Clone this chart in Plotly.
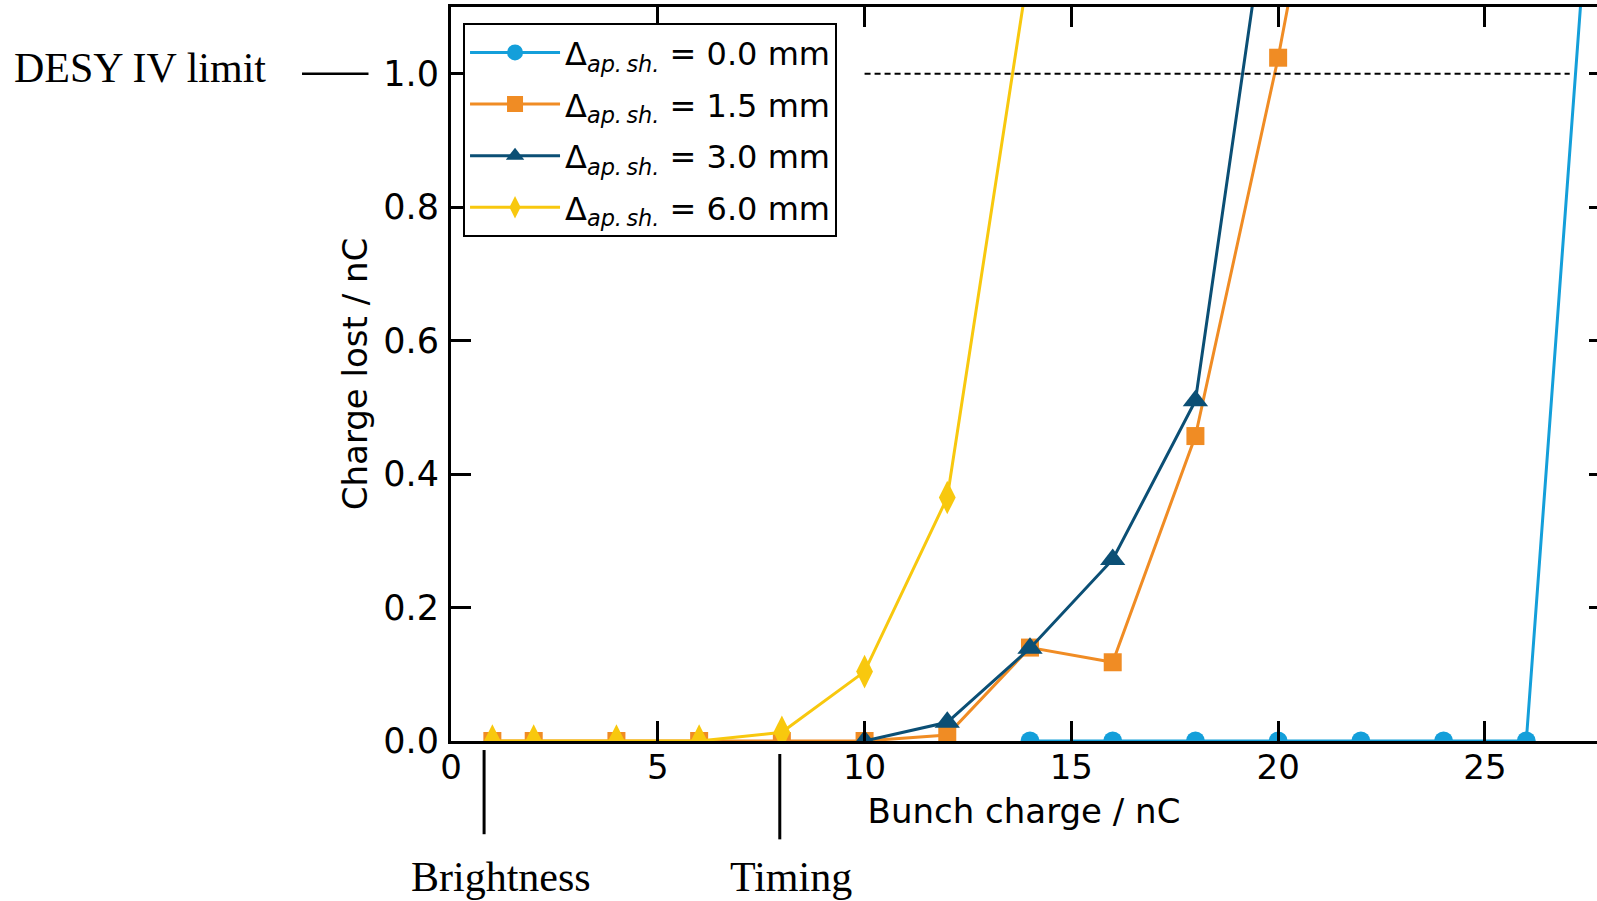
import plotly.graph_objects as go

# Charge lost vs. bunch charge for different aperture shifts
charge_00 = [14, 16, 18, 20, 22, 24, 26, 28]
lost_00 = [0, 0, 0, 0, 0, 0, 0, 1.68]

charge_15 = [1, 2, 4, 6, 8, 10, 12, 14, 16, 18, 20, 22]
lost_15 = [0, 0, 0, 0, 0, 0, 0.009, 0.14, 0.118, 0.457, 1.024, 1.68]

charge_30 = [10, 12, 14, 16, 18, 20]
lost_30 = [0, 0.028, 0.139, 0.272, 0.51, 1.37]

charge_60 = [1, 2, 4, 6, 8, 10, 12, 14]
lost_60 = [0, 0, 0, 0, 0.013, 0.104, 0.365, 1.17]

shift_labels = ["0.0", "1.5", "3.0", "6.0"]

desy_limit = 1.0
limit_span = [10, 27.05]
brightness_q = 0.8
timing_q = 7.95

x_ticks = [0, 5, 10, 15, 20, 25]
y_ticks = [0.0, 0.2, 0.4, 0.6, 0.8, 1.0]
y_tick_text = ["0.0", "0.2", "0.4", "0.6", "0.8", "1.0"]

X_MAX = 27.71
Y_MAX = 1.1

series = [
    (charge_00, lost_00, "#149FDA", "circle", 19),
    (charge_15, lost_15, "#F08C24", "square", 18),
    (charge_30, lost_30, "#0B4F75", "triangle-up", 22),
    (charge_60, lost_60, "#F8C80E", "diamond-tall", 24),
]

FONT = "DejaVu Sans"
SERIF = "Liberation Serif"

fig = go.Figure()
for (xs, ys, col, sym, sz), lab in zip(series, shift_labels):
    fig.add_trace(go.Scatter(
        x=xs, y=ys, mode="lines+markers",
        name=f"Δ<sub><i>ap.\u2009sh.</i></sub> = {lab} mm",
        legendgroup=lab,
        line=dict(color=col, width=3),
        marker=dict(color=col, symbol=sym, size=sz, line=dict(width=0)),
        cliponaxis=True,
    ))

# helper trace carrying the right-hand tick marks
fig.add_trace(go.Scatter(x=[], y=[], yaxis="y2", showlegend=False, hoverinfo="skip"))

# DESY IV limit (dashed)
fig.add_shape(type="line", xref="x", yref="y",
              x0=limit_span[0], x1=limit_span[1], y0=desy_limit, y1=desy_limit,
              line=dict(color="black", width=2, dash="6px,4px"))


def xp(v):
    return v / X_MAX


def yp(v):
    return v / Y_MAX


# marker line beside the limit label
fig.add_shape(type="line", xref="paper", yref="paper",
              x0=-0.130, x1=-0.072, y0=yp(desy_limit), y1=yp(desy_limit),
              line=dict(color="black", width=2.5))
fig.add_annotation(text="DESY IV limit", xref="paper", yref="paper",
                   x=-0.271, y=yp(desy_limit) + 0.008, xanchor="center", yanchor="middle",
                   showarrow=False, font=dict(family=SERIF, size=42, color="black"))

# Brightness / Timing markers under the x axis
for q, y0, y1 in [(brightness_q, -0.0123, -0.127), (timing_q, -0.0177, -0.134)]:
    fig.add_shape(type="line", xref="paper", yref="paper",
                  x0=xp(q), x1=xp(q), y0=y0, y1=y1,
                  line=dict(color="black", width=3))
fig.add_annotation(text="Brightness", xref="paper", yref="paper",
                   x=xp(1.21), y=-0.185, xanchor="center", yanchor="middle",
                   showarrow=False, font=dict(family=SERIF, size=42, color="black"))
fig.add_annotation(text="Timing", xref="paper", yref="paper",
                   x=xp(8.22), y=-0.185, xanchor="center", yanchor="middle",
                   showarrow=False, font=dict(family=SERIF, size=42, color="black"))

fig.update_layout(
    width=1597, height=901,
    margin=dict(l=451, r=0, t=7, b=160),
    paper_bgcolor="white", plot_bgcolor="white",
    font=dict(family=FONT, size=34, color="black"),
    showlegend=True,
    legend=dict(
        x=0.0105, y=0.978, xanchor="left", yanchor="top",
        bgcolor="white", bordercolor="black", borderwidth=2,
        font=dict(family=FONT, size=32, color="black"),
        tracegroupgap=7, itemwidth=90,
    ),
    xaxis=dict(
        range=[0, X_MAX], tickvals=x_ticks, ticks="inside", ticklen=20, tickwidth=2.5,
        tickcolor="black", showline=True, linecolor="black", linewidth=3,
        mirror="ticks", showgrid=False, zeroline=False,
        tickfont=dict(family=FONT, size=34),
        title=dict(text="Bunch charge / nC", font=dict(family=FONT, size=34), standoff=14),
        ticklabelstandoff=-6,
    ),
    yaxis=dict(
        range=[0, Y_MAX], tickvals=y_ticks, ticktext=y_tick_text, ticks="inside",
        ticklen=20, tickwidth=2.5, tickcolor="black", showline=True, linecolor="black",
        linewidth=3, mirror=False, showgrid=False, zeroline=False,
        tickfont=dict(family=FONT, size=35),
        title=dict(text="Charge lost / nC", font=dict(family=FONT, size=34), standoff=6),
        ticklabelstandoff=2,
    ),
    yaxis2=dict(
        overlaying="y", side="right", range=[0, Y_MAX], tickvals=y_ticks,
        ticks="inside", ticklen=8, tickwidth=2.5, tickcolor="black",
        showticklabels=False, showline=False, showgrid=False, zeroline=False,
    ),
)

fig.write_html("out.html")
